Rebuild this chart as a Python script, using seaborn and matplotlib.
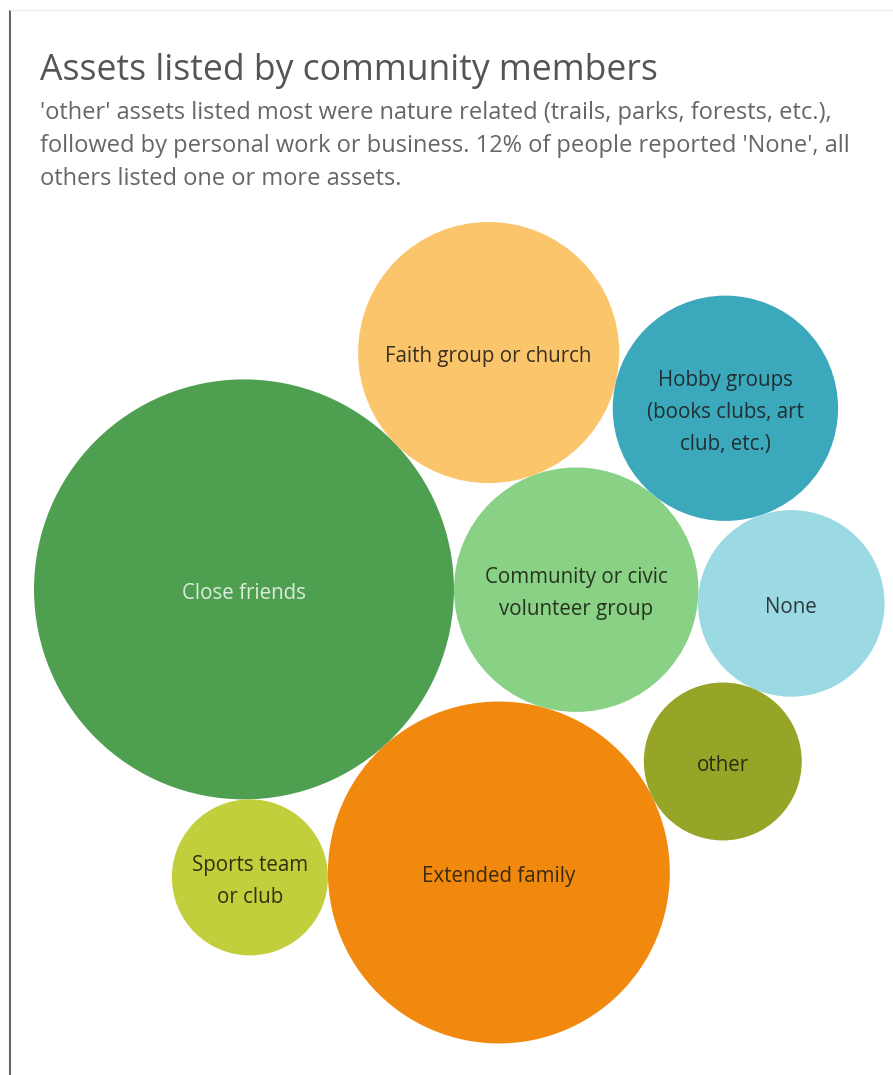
import math
import numpy as np
import pandas as pd
import matplotlib
matplotlib.use("Agg")
import matplotlib.pyplot as plt
import seaborn as sns

# ---------------- data ----------------
categories = [
    "Close friends",
    "Extended family",
    "Community or civic volunteer group",
    "Faith group or church",
    "Hobby groups (books clubs, art club, etc.)",
    "None",
    "other",
    "Sports team or club",
]
values = [60.8, 40.3, 20.6, 23.5, 17.5, 12.0, 8.6, 8.4]
display_labels = [
    "Close friends",
    "Extended family",
    "Community or civic\nvolunteer group",
    "Faith group or church",
    "Hobby groups\n(books clubs, art\nclub, etc.)",
    "None",
    "other",
    "Sports team\nor club",
]
colors = ["#4f9f51", "#f0890e", "#89d184", "#fbc56c", "#3ca8bc", "#9bd9e3", "#96a428", "#c2cf3c"]
label_colors = ["#dcecdc", "#3a2a10", "#26331f", "#3a3020", "#1f2f33", "#2c3a3d", "#2a2e10", "#2e3210"]

title = "Assets listed by community members"
subtitle_lines = [
    "'other' assets listed most were nature related (trails, parks, forests, etc.),",
    "followed by personal work or business. 12% of people reported 'None', all",
    "others listed one or more assets.",
]

# front-chain packing: each new bubble sits tangent to two placed bubbles (left of P->Q)
anchors = [None, None, (0, 1), (0, 2), (3, 2), (4, 2), (5, 1), (1, 0)]

# ---------------- layout ----------------
W, H, DPI = 893, 1075, 100
RADIUS_SCALE = 26.93          # px per sqrt(value)
ROTATION_DEG = -48.0
PLOT_LEFT, PLOT_TOP = 34, 222

radii = np.array([RADIUS_SCALE * math.sqrt(v) for v in values])
centers = [None] * len(values)
centers[0] = np.array([0.0, 0.0])
centers[1] = np.array([radii[0] + radii[1], 0.0])


def place(p, q, rp, rq, r):
    d = np.linalg.norm(q - p)
    a, b = rp + r, rq + r
    x = (d * d + a * a - b * b) / (2 * d)
    h = math.sqrt(max(a * a - x * x, 0.0))
    u = (q - p) / d
    n = np.array([-u[1], u[0]])
    return p + x * u + h * n


for i, anc in enumerate(anchors):
    if anc is None:
        continue
    pi, qi = anc
    centers[i] = place(centers[pi], centers[qi], radii[pi], radii[qi], radii[i])

C = np.vstack(centers)
th = math.radians(ROTATION_DEG)
R = np.array([[math.cos(th), -math.sin(th)], [math.sin(th), math.cos(th)]])
C = C @ R.T
xs = C[:, 0]
ys = -C[:, 1]  # to image coordinates (y down)
xs = xs - (xs - radii).min() + PLOT_LEFT
ys = ys - (ys - radii).min() + PLOT_TOP

px_to_pt = 72.0 / DPI
df = pd.DataFrame({
    "category": categories,
    "value": values,
    "x": xs,
    "y": ys,
})
size_map = {c: (2 * r * px_to_pt) ** 2 for c, r in zip(categories, radii)}
palette = dict(zip(categories, colors))

# ---------------- drawing ----------------
sns.set_theme(style="white")
plt.rcParams["font.family"] = ["Open Sans", "DejaVu Sans"]

fig = plt.figure(figsize=(W / DPI, H / DPI), dpi=DPI)
ax = fig.add_axes([0, 0, 1, 1])
sns.scatterplot(data=df, x="x", y="y", hue="category", palette=palette,
                size="category", sizes=size_map, legend=False, linewidth=0,
                alpha=1.0, ax=ax)
ax.set_xlim(0, W)
ax.set_ylim(H, 0)
ax.set_axis_off()

for lab, lc, x, y in zip(display_labels, label_colors, xs, ys):
    ax.text(x, y + 4, lab, ha="center", va="center", fontsize=14.8, color=lc,
            linespacing=1.7, multialignment="center")

# frame lines
ax.plot([10, 10], [10, H], color="#666666", lw=1.5, solid_capstyle="butt")
ax.plot([10, W], [10, 10], color="#eeeeee", lw=1)

fig.text(40 / W, 1 - 80 / H, title, fontsize=25.6, color="#555555", ha="left", va="baseline")
for k, line in enumerate(subtitle_lines):
    fig.text(40 / W, 1 - (119 + 33 * k) / H, line, fontsize=17, color="#666666",
             ha="left", va="baseline")

fig.savefig("out.png", dpi=DPI)
